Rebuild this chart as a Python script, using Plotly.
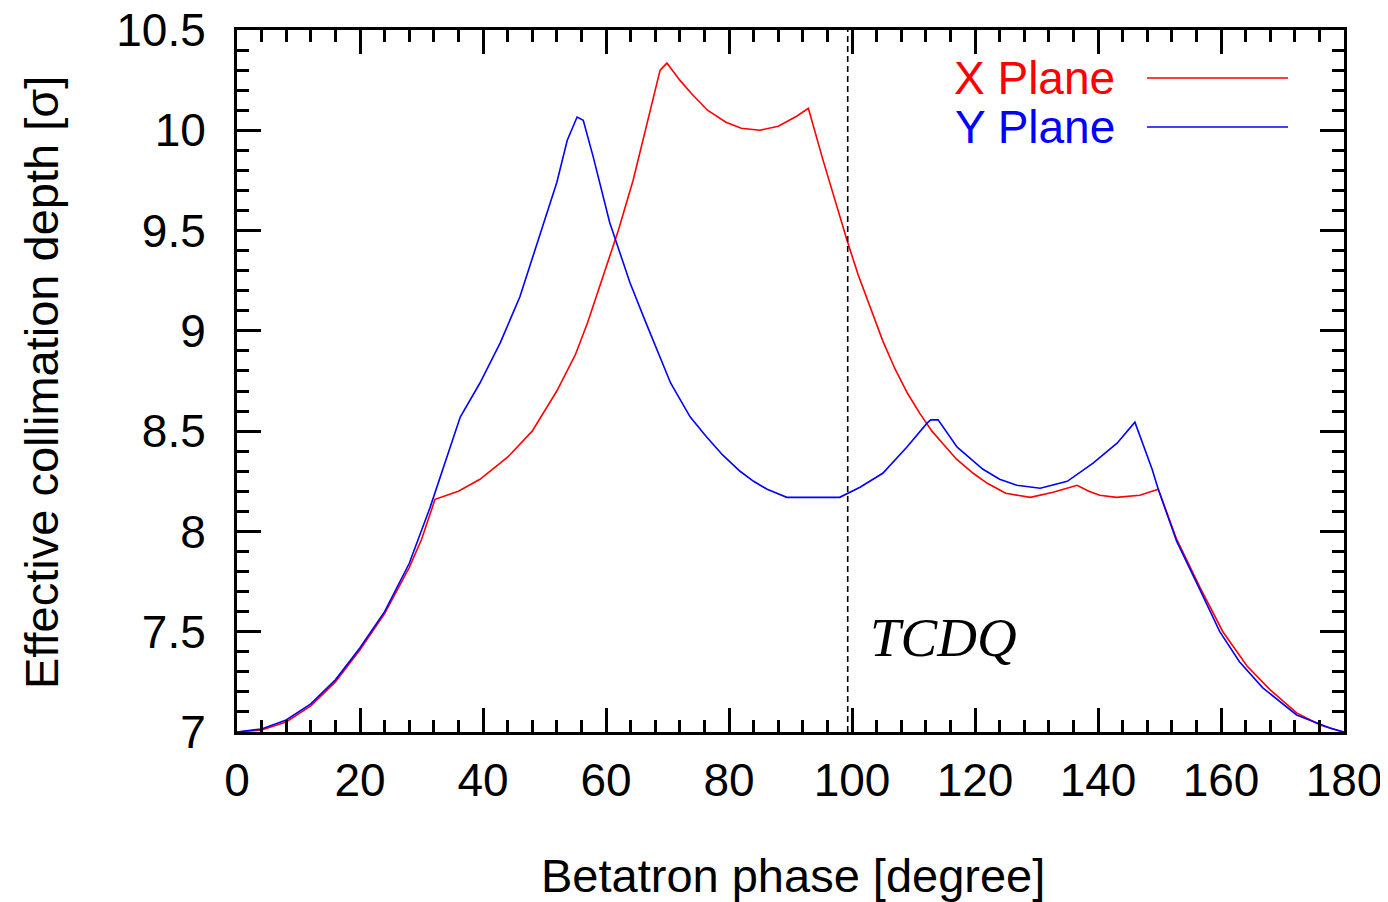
import plotly.graph_objects as go

# X plane (red)
x_red = [0, 4, 8, 12, 16, 20, 24, 28, 30, 32.2, 36, 39.5, 44, 48, 52, 55, 57, 60, 62, 64.4,
         66, 67.5, 68.8, 69.9, 72, 74, 76.5, 79.5, 82, 85, 88, 91, 92.9, 95.3, 98, 99.2, 101,
         103, 105, 107, 109, 111, 113, 115, 117, 119.7, 122, 125, 129, 132.7, 134.5, 136.6,
         138.5, 140.3, 143, 146.8, 149.8, 152.8, 156.6, 160.3, 164.2, 168, 172.3, 176.1,
         179.3, 180]
y_red = [7.0, 7.01, 7.05, 7.13, 7.25, 7.41, 7.59, 7.82, 7.96, 8.16, 8.20, 8.26, 8.37, 8.50,
         8.70, 8.88, 9.04, 9.31, 9.50, 9.75, 9.95, 10.15, 10.30, 10.335, 10.25, 10.18, 10.10,
         10.04, 10.01, 10.0, 10.02, 10.07, 10.11, 9.85, 9.57, 9.45, 9.28, 9.11, 8.95, 8.81,
         8.69, 8.59, 8.50, 8.43, 8.36, 8.29, 8.24, 8.19, 8.17, 8.195, 8.21, 8.23, 8.20, 8.18,
         8.17, 8.18, 8.21, 7.96, 7.72, 7.50, 7.33, 7.21, 7.095, 7.035, 7.005, 7.0]

# Y plane (blue)
x_blue = [0, 4, 8, 12, 16, 20, 24, 28, 31.4, 34.1, 36.3, 39.5, 42.8, 46, 49.3, 52, 53.7, 55.3,
          56.3, 57.9, 60.6, 63.9, 66.5, 70.5, 73.7, 76.4, 79, 81.8, 84, 86.2, 89.4, 98, 101.3,
          105, 108.9, 112.2, 112.8, 114, 117.1, 121.3, 124, 126.8, 130.6, 135, 139.2, 143.1,
          146, 148.8, 149.8, 152.8, 156.1, 159.8, 163, 166.8, 172.3, 177.7, 180]
y_blue = [7.0, 7.015, 7.06, 7.14, 7.26, 7.42, 7.60, 7.84, 8.12, 8.37, 8.57, 8.74, 8.94, 9.17,
          9.49, 9.74, 9.95, 10.066, 10.05, 9.87, 9.54, 9.24, 9.04, 8.74, 8.57, 8.47, 8.38,
          8.30, 8.25, 8.21, 8.17, 8.17, 8.22, 8.29, 8.42, 8.54, 8.556, 8.556, 8.42, 8.31,
          8.26, 8.23, 8.215, 8.25, 8.34, 8.44, 8.545, 8.31, 8.21, 7.95, 7.74, 7.50, 7.35,
          7.22, 7.085, 7.02, 7.0]

tcdq_x = 99.3
x_ticks = [0, 20, 40, 60, 80, 100, 120, 140, 160, 180]
y_ticks = [7, 7.5, 8, 8.5, 9, 9.5, 10, 10.5]
y_tick_labels = ["7", "7.5", "8", "8.5", "9", "9.5", "10", "10.5"]

FONT = "Liberation Sans, Arial, sans-serif"
OFF = 8  # default page body margin
W, H = 1388 - OFF, 902 - OFF
L, T = 237 - OFF, 30 - OFF
pw, ph = 1107, 702
R, B = W - L - pw, H - T - ph


def px_x(p):
    return (p - OFF - L) / pw


def px_y(p):
    return 1 - (p - OFF - T) / ph


fig = go.Figure()
fig.add_trace(go.Scatter(x=x_red, y=y_red, mode="lines", name="X Plane",
                         line=dict(color="#ff0000", width=1.6)))
fig.add_trace(go.Scatter(x=x_blue, y=y_blue, mode="lines", name="Y Plane",
                         line=dict(color="#0000ff", width=1.6)))

axis_common = dict(
    showgrid=False, zeroline=False, showline=True, linecolor="black", linewidth=3,
    mirror="ticks", ticks="inside", ticklen=24, tickwidth=3, tickcolor="black",
    automargin=False, ticklabeloverflow="allow",
    tickfont=dict(family=FONT, size=46, color="black"),
)

fig.update_xaxes(range=[0, 180], tickvals=x_ticks, ticklabelstandoff=6,
                 minor=dict(dtick=4, ticks="inside", ticklen=12, tickwidth=3, tickcolor="black"),
                 **axis_common)
fig.update_yaxes(range=[7, 10.5], tickvals=y_ticks, ticktext=y_tick_labels, ticklabelstandoff=19,
                 minor=dict(dtick=0.1, ticks="inside", ticklen=12, tickwidth=3, tickcolor="black"),
                 **axis_common)

# axis titles
fig.add_annotation(x=px_x(793), y=px_y(875), xref="paper", yref="paper",
                   text="Betatron phase [degree]", showarrow=False,
                   xanchor="center", yanchor="middle",
                   font=dict(family=FONT, size=47, color="black"))
fig.add_annotation(x=px_x(42), y=px_y(383), xref="paper", yref="paper",
                   text="Effective collimation depth [σ]", showarrow=False, textangle=-90,
                   xanchor="center", yanchor="middle",
                   font=dict(family=FONT, size=47, color="black"))

# dashed TCDQ marker
fig.add_shape(type="line", x0=tcdq_x, x1=tcdq_x, y0=0, y1=1, xref="x", yref="paper",
              line=dict(color="black", width=1.6, dash="6px,4px"))
fig.add_annotation(x=102.6, y=7.47, xref="x", yref="y", text="<i>TCDQ</i>", showarrow=False,
                   xanchor="left", yanchor="middle",
                   font=dict(family="Liberation Serif, Times New Roman, serif", size=55, color="black"))

# legend (text on the left, sample line on the right)
leg_items = [("X Plane", "#ff0000", 78), ("Y Plane", "#0000ff", 127)]
for label, color, ypx in leg_items:
    yp = px_y(ypx)
    fig.add_annotation(x=px_x(1117), y=yp, xref="paper", yref="paper", text=label,
                       showarrow=False, xanchor="right", yanchor="middle",
                       font=dict(family=FONT, size=46, color=color))
    fig.add_shape(type="line", x0=px_x(1147), x1=px_x(1288), y0=yp, y1=yp,
                  xref="paper", yref="paper", line=dict(color=color, width=1.6))

fig.update_layout(
    width=W, height=H, showlegend=False,
    margin=dict(l=L, r=R, t=T, b=B, autoexpand=False),
    paper_bgcolor="white", plot_bgcolor="white",
    font=dict(family=FONT, color="black"),
)

fig.write_html("out.html")
